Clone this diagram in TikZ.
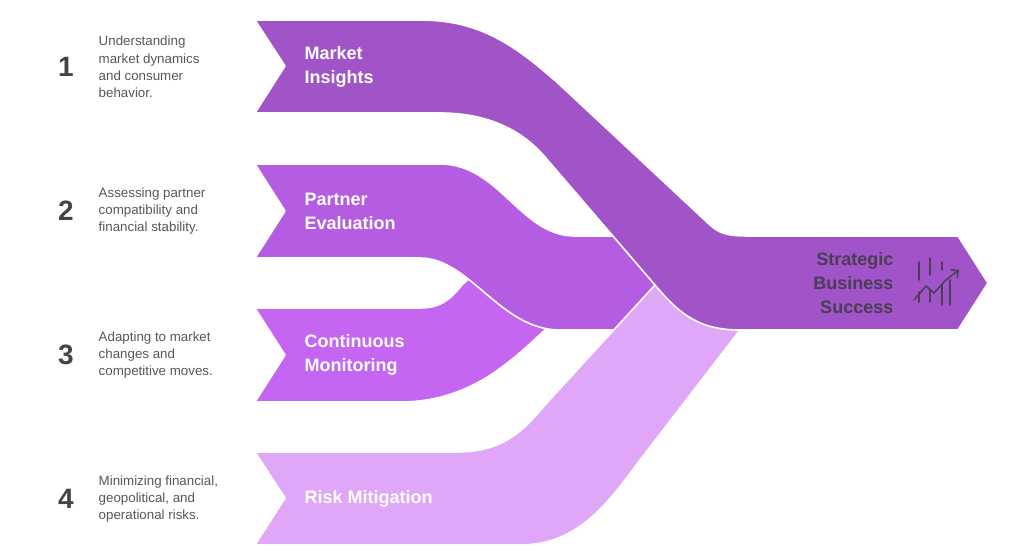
\documentclass[tikz,border=0pt]{standalone}
\usetikzlibrary{arrows.meta}
\usepackage{fontspec}
\setmainfont{Liberation Sans}
\definecolor{cA}{HTML}{A154C7}
\definecolor{cB}{HTML}{B55DE2}
\definecolor{cC}{HTML}{C466F2}
\definecolor{cD}{HTML}{E0A7F9}
\definecolor{dk}{HTML}{4A3D57}
\definecolor{num}{HTML}{444444}
\begin{document}
\begin{tikzpicture}[x=0.75pt,y=-0.75pt,
  band/.style={draw=white,line width=1.2pt,line join=round},
  lbl/.style={anchor=west,text=white,font=\fontsize{13.5}{18}\selectfont\bfseries,align=left},
  num/.style={text=num,font=\fontsize{21}{24}\selectfont\bfseries},
  desc/.style={anchor=west,text=num!90,font=\fontsize{10}{13}\selectfont,align=left}]
\useasboundingbox (0,0) rectangle (1020,556);
% band 3
\fill[cC,band] (255,308) -- (420,308) .. controls (440,308) and (450,300) .. (462,285) -- (500,250) -- (580,300) -- (545,330) .. controls (510,362) and (470,402) .. (400,402) -- (255,402) -- (285,355) -- cycle;
% band 2
\fill[cB,band] (255,164) -- (440,164) .. controls (500,164) and (520,236) .. (575,236) -- (680,236) -- (680,330) -- (560,330) .. controls (500,330) and (470,258) .. (420,258) -- (255,258) -- (285,211) -- cycle;
% band 4
\fill[cD,band] (255,452) -- (455,452) .. controls (500,452) and (520,435) .. (545,405) -- (655,285) -- (760,290) -- (740,330) -- (640,460) .. controls (610,500) and (580,545) .. (520,545) -- (255,545) -- (285,498) -- cycle;
% band 1 + output
\fill[cA,band] (255,20) -- (420,20) .. controls (480,20) and (515,45) .. (560,85) -- (710,225) .. controls (720,234) and (728,236) .. (750,236) -- (958,236) -- (988,283) -- (958,330) -- (740,330) .. controls (700,330) and (680,315) .. (655,285) -- (545,157) .. controls (520,128) and (485,113) .. (440,113) -- (255,113) -- (285,66) -- cycle;
% labels
\node[lbl] (l1) at (300,67) {Market\\Insights};
\node[lbl] (l2) at (300,211) {Partner\\Evaluation};
\node[lbl] (l3) at (300,355) {Continuous\\Monitoring};
\node[lbl] (l4) at (300,499) {Risk Mitigation};
\node[text=dk,anchor=east,align=right,font=\fontsize{13.5}{18}\selectfont\bfseries] (out) at (898,283) {Strategic\\Business\\Success};
% icon
\begin{scope}[dk,line width=1.1pt,line cap=round]
\draw (919,262) -- (919,280);
\draw (930,258) -- (930,275);
\draw (942,262) -- (942,270);
\draw (930,290) -- (930,302);
\draw (942,285) -- (942,305);
\draw (950,280) -- (950,305);
\draw (919,292) -- (919,302);
\draw[-{Straight Barb[length=4pt]}] (914,300) -- (926,286) -- (934,293) -- (946,280) -- (959,270);
\end{scope}
% numbers
\node[num] (n1) at (66,67) {1};
\node[num] (n2) at (66,211) {2};
\node[num] (n3) at (66,355) {3};
\node[num] (n4) at (66,499) {4};
\node[desc] (d1) at (94,67) {Understanding\\market dynamics\\and consumer\\behavior.};
\node[desc] (d2) at (94,211) {Assessing partner\\compatibility and\\financial stability.};
\node[desc] (d3) at (94,355) {Adapting to market\\changes and\\competitive moves.};
\node[desc] (d4) at (94,499) {Minimizing financial,\\geopolitical, and\\operational risks.};
\end{tikzpicture}
\end{document}
